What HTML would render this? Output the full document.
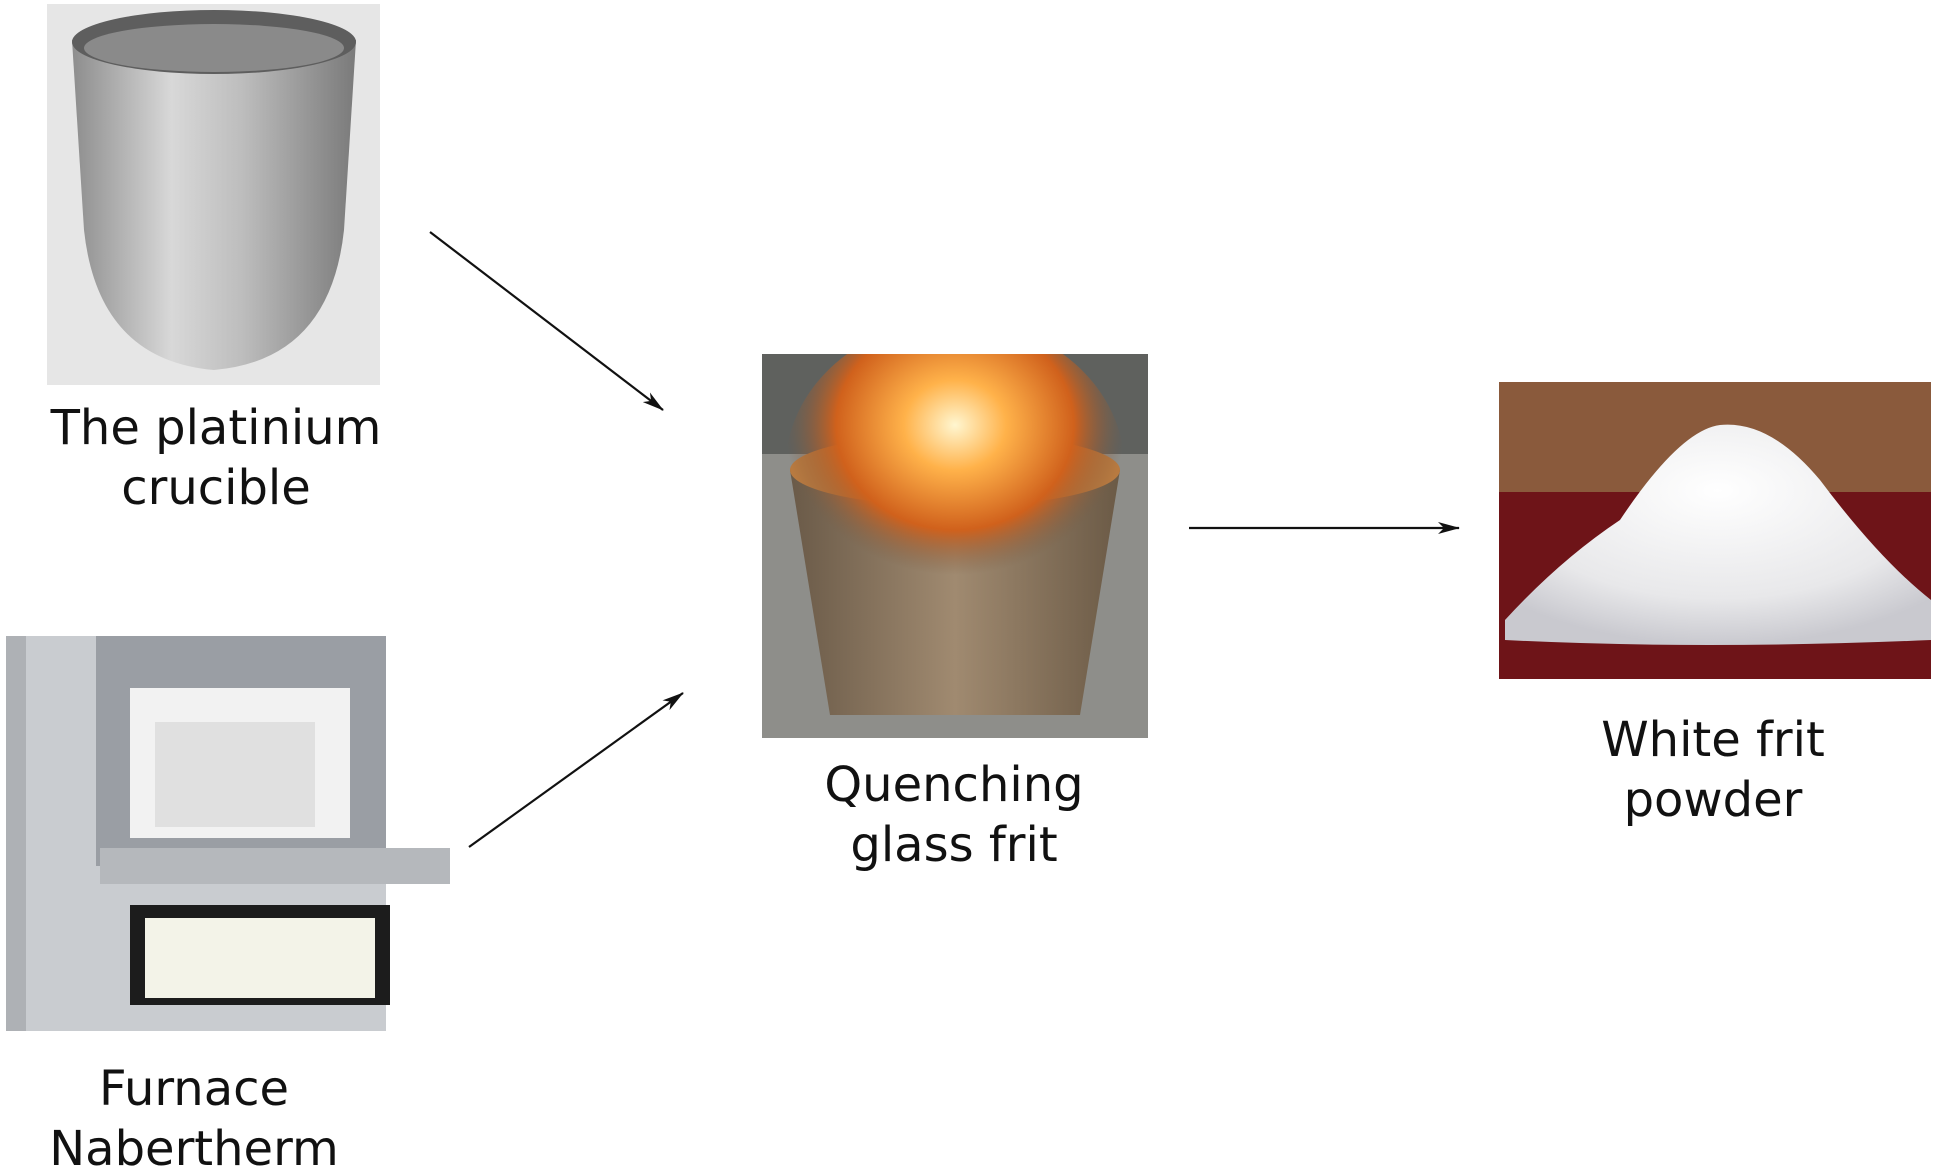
<!DOCTYPE html>
<html><head><meta charset="utf-8"><style>
html,body{margin:0;padding:0;background:#fff;width:1936px;height:1175px;overflow:hidden;position:relative}
.t{position:absolute;font-family:"DejaVu Sans","Liberation Sans",sans-serif;font-size:48px;color:#111;text-align:center;line-height:60px;width:600px}
svg{position:absolute;left:0;top:0}
</style></head><body>
<svg width="1936" height="1175" viewBox="0 0 1936 1175">
<defs>
<linearGradient id="cup" x1="0" x2="1"><stop offset="0" stop-color="#8d8d8d"/><stop offset=".35" stop-color="#d8d8d8"/><stop offset=".6" stop-color="#bdbdbd"/><stop offset="1" stop-color="#7a7a7a"/></linearGradient>
<radialGradient id="glow" cx=".5" cy=".35" r=".5"><stop offset="0" stop-color="#fff6d0"/><stop offset=".3" stop-color="#ffb24a"/><stop offset=".7" stop-color="#d0611c"/><stop offset="1" stop-color="#7a5a40" stop-opacity="0"/></radialGradient>
<linearGradient id="bucket" x1="0" x2="1"><stop offset="0" stop-color="#6a5a48"/><stop offset=".5" stop-color="#a08a70"/><stop offset="1" stop-color="#6b5a46"/></linearGradient>
<radialGradient id="pow" cx=".5" cy=".3" r=".7"><stop offset="0" stop-color="#ffffff"/><stop offset=".7" stop-color="#e8e8ea"/><stop offset="1" stop-color="#c9c9cf"/></radialGradient>
<clipPath id="bc"><rect x="762" y="354" width="386" height="384"/></clipPath>
<marker id="ah" markerWidth="22" markerHeight="12" refX="21" refY="6" orient="auto" markerUnits="userSpaceOnUse"><path d="M0,0 L22,6 L0,12 L6,6 Z" fill="#111"/></marker>
</defs>
<rect x="47" y="4" width="333" height="381" fill="#e6e6e6"/>
<path d="M72,40 Q214,0 356,40 L344,230 Q330,360 214,370 Q98,360 84,230 Z" fill="url(#cup)"/>
<ellipse cx="214" cy="42" rx="142" ry="32" fill="#5e5e5e"/>
<ellipse cx="214" cy="48" rx="130" ry="24" fill="#8a8a8a"/>
<rect x="6" y="636" width="380" height="395" fill="#c9ccd0"/>
<rect x="96" y="636" width="290" height="230" fill="#9a9ea4"/>
<rect x="130" y="688" width="220" height="150" fill="#f2f2f2"/>
<rect x="155" y="722" width="160" height="105" fill="#e0e0e0"/>
<rect x="100" y="848" width="350" height="36" fill="#b5b8bc"/>
<rect x="130" y="905" width="260" height="100" fill="#1c1c1c"/>
<rect x="145" y="918" width="230" height="80" fill="#f3f3e8"/>
<rect x="6" y="636" width="20" height="395" fill="#aeb1b5"/>
<g clip-path="url(#bc)">
<rect x="762" y="354" width="386" height="384" fill="#8e8e8a"/>
<rect x="762" y="354" width="386" height="100" fill="#5f615e"/>
<path d="M790,470 L1120,470 L1080,715 L830,715 Z" fill="url(#bucket)"/>
<ellipse cx="955" cy="470" rx="165" ry="36" fill="#b87a40"/>
<ellipse cx="955" cy="470" rx="170" ry="150" fill="url(#glow)"/>
</g>
<rect x="1499" y="382" width="432" height="297" fill="#6e1418"/>
<rect x="1499" y="382" width="432" height="110" fill="#8a5a3c"/>
<path d="M1505,620 Q1560,560 1620,520 Q1680,430 1720,425 Q1770,420 1820,480 Q1880,560 1931,600 L1931,640 Q1700,650 1505,640 Z" fill="url(#pow)"/>
<g stroke="#111" stroke-width="2.2" fill="none">
<line x1="430" y1="232" x2="663" y2="410" marker-end="url(#ah)"/>
<line x1="469" y1="847" x2="683" y2="693" marker-end="url(#ah)"/>
<line x1="1189" y1="528" x2="1459" y2="528" marker-end="url(#ah)"/>
</g>
</svg>
<div class="t" style="left:-84px;top:398px">The platinium<br>crucible</div>
<div class="t" style="left:-106px;top:1059px">Furnace<br>Nabertherm</div>
<div class="t" style="left:654px;top:755px">Quenching<br>glass frit</div>
<div class="t" style="left:1413px;top:710px">White frit<br>powder</div>
</body></html>
